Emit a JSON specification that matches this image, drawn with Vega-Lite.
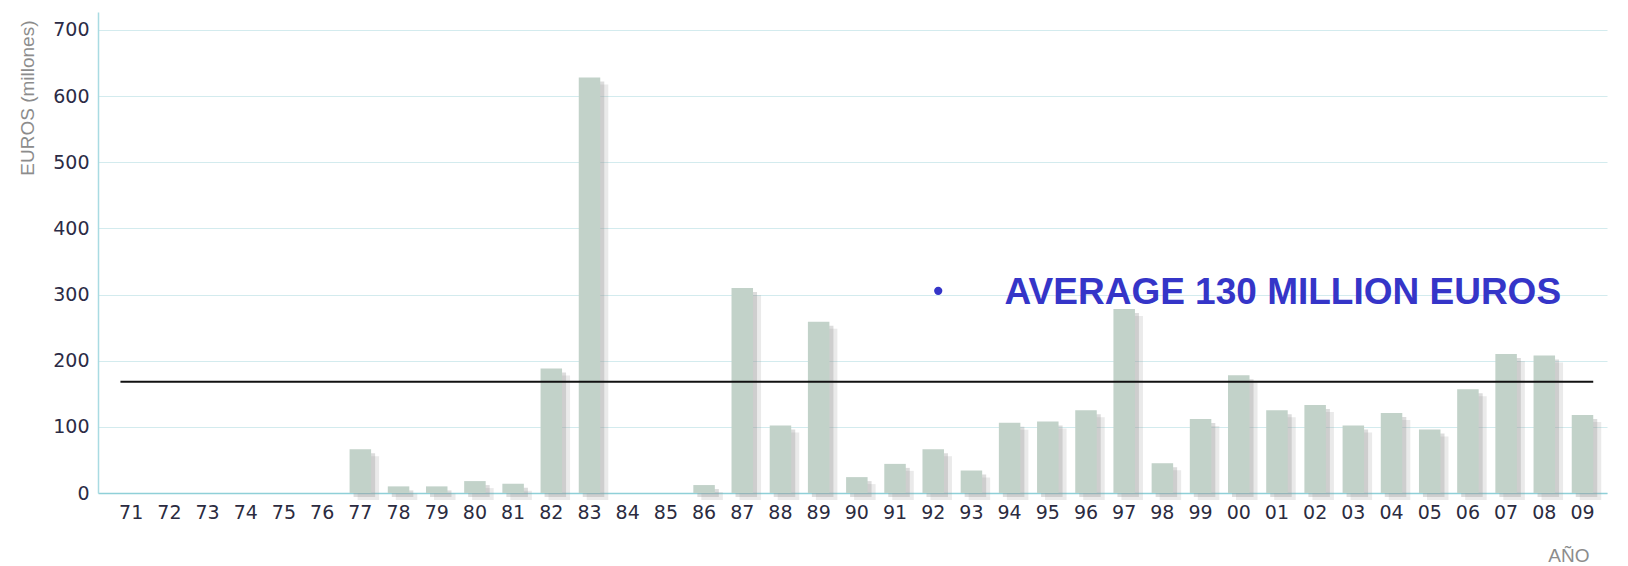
{
  "$schema": "https://vega.github.io/schema/vega-lite/v6.json",
  "autosize": {"type": "none"},
  "padding": {"left": 98, "top": 12, "right": 21, "bottom": 73},
  "width": 1509,
  "height": 481,
  "background": "white",
  "config": {"view": {"stroke": null}},
  "data": {"values": [
    {"year": "71", "eur": 0}, {"year": "72", "eur": 0}, {"year": "73", "eur": 0}, {"year": "74", "eur": 0},
    {"year": "75", "eur": 0}, {"year": "76", "eur": 0}, {"year": "77", "eur": 66}, {"year": "78", "eur": 10},
    {"year": "79", "eur": 10}, {"year": "80", "eur": 18}, {"year": "81", "eur": 14}, {"year": "82", "eur": 188},
    {"year": "83", "eur": 628}, {"year": "84", "eur": 0}, {"year": "85", "eur": 0}, {"year": "86", "eur": 12},
    {"year": "87", "eur": 310}, {"year": "88", "eur": 102}, {"year": "89", "eur": 259}, {"year": "90", "eur": 24},
    {"year": "91", "eur": 44}, {"year": "92", "eur": 66}, {"year": "93", "eur": 34}, {"year": "94", "eur": 106},
    {"year": "95", "eur": 108}, {"year": "96", "eur": 125}, {"year": "97", "eur": 278}, {"year": "98", "eur": 45},
    {"year": "99", "eur": 112}, {"year": "00", "eur": 178}, {"year": "01", "eur": 125}, {"year": "02", "eur": 133},
    {"year": "03", "eur": 102}, {"year": "04", "eur": 121}, {"year": "05", "eur": 96}, {"year": "06", "eur": 157},
    {"year": "07", "eur": 210}, {"year": "08", "eur": 208}, {"year": "09", "eur": 118}
  ]},
  "layer": [
    {
      "mark": {"type": "bar", "color": "#a0a0a0", "opacity": 0.22, "xOffset": 8, "yOffset": 7},
      "encoding": {
        "x": {
          "field": "year", "type": "ordinal", "sort": null,
          "scale": {
            "domain": ["71","72","73","74","75","76","77","78","79","80","81","82","83","84","85","86","87","88","89","90","91","92","93","94","95","96","97","98","99","00","01","02","03","04","05","06","07","08","09"],
            "paddingInner": 0.437, "paddingOuter": 0.474, "align": 0.62
          },
          "axis": {
            "labelAngle": 0, "ticks": false, "tickSize": 0, "labelPadding": 10,
            "labelFont": "DejaVu Sans", "labelFontSize": 19, "labelColor": "#2b2b40",
            "domainColor": "#8fd0d8", "domainWidth": 1.5, "grid": false,
            "title": "AÑO", "titleX": 1491, "titleY": 68, "titleAlign": "right",
            "titleBaseline": "alphabetic", "titleFont": "Liberation Sans", "titleFontSize": 19,
            "titleFontWeight": "normal", "titleColor": "#8c8c8c"
          }
        },
        "y": {
          "field": "eur", "type": "quantitative",
          "scale": {"domain": [0, 727], "nice": false},
          "axis": {
            "values": [0, 100, 200, 300, 400, 500, 600, 700],
            "grid": true, "gridColor": "#d3ebee", "gridWidth": 1.2,
            "domainColor": "#a9dbe2", "domainWidth": 1.5,
            "ticks": false, "tickSize": 0, "labelPadding": 9,
            "labelFont": "DejaVu Sans", "labelFontSize": 19, "labelColor": "#2b2b45",
            "title": "EUROS (millones)", "titleFont": "Liberation Sans", "titleFontSize": 19,
            "titleFontWeight": "normal", "titleColor": "#8c8c8c",
            "titleX": -71, "titleY": 8, "titleAlign": "right", "titleAngle": -90, "titleBaseline": "middle"
          }
        }
      }
    },
    {
      "mark": {"type": "bar", "color": "#9a9a9a", "opacity": 0.35, "xOffset": 4, "yOffset": 4},
      "encoding": {
        "x": {"field": "year", "type": "ordinal", "sort": null},
        "y": {"field": "eur", "type": "quantitative"}
      }
    },
    {
      "mark": {"type": "bar", "color": "#c2d2c9"},
      "encoding": {
        "x": {"field": "year", "type": "ordinal", "sort": null},
        "y": {"field": "eur", "type": "quantitative"}
      }
    },
    {
      "data": {"values": [{"avg": 168, "from": "71", "to": "09"}]},
      "mark": {"type": "rule", "color": "#111111", "strokeWidth": 2},
      "encoding": {
        "x": {"field": "from", "type": "ordinal", "bandPosition": 0},
        "x2": {"field": "to", "bandPosition": 1},
        "y": {"field": "avg", "type": "quantitative"}
      }
    },
    {
      "data": {"values": [{"label": "AVERAGE 130 MILLION EUROS", "at": "94", "bullet": "92", "ty": 285.5, "by": 305.6}]},
      "layer": [
        {
          "mark": {"type": "text", "align": "left", "baseline": "alphabetic", "dx": -5, "font": "Liberation Sans", "fontSize": 37, "fontWeight": "bold", "color": "#3535c8"},
          "encoding": {
            "x": {"field": "at", "type": "ordinal"},
            "y": {"field": "ty", "type": "quantitative"},
            "text": {"field": "label"}
          }
        },
        {
          "mark": {"type": "point", "shape": "circle", "filled": true, "size": 68, "opacity": 1, "xOffset": 5, "color": "#3535c8"},
          "encoding": {
            "x": {"field": "bullet", "type": "ordinal"},
            "y": {"field": "by", "type": "quantitative"}
          }
        }
      ]
    }
  ]
}
